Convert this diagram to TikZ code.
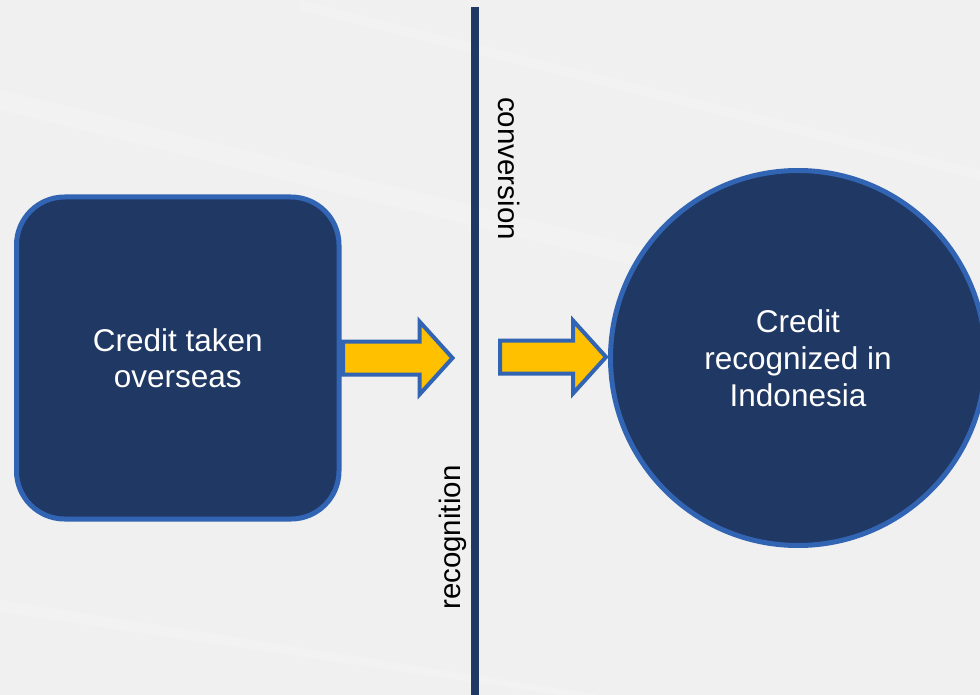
\documentclass[tikz,border=0pt]{standalone}
\usepackage{fontspec}
\setmainfont{Liberation Sans}
\definecolor{bgc}{HTML}{F0F0F0}
\definecolor{navy}{HTML}{203864}
\definecolor{rimblue}{HTML}{3264B4}
\definecolor{lineblue}{HTML}{1F3864}
\definecolor{gold}{HTML}{FFC000}
\tikzset{
  shapebox/.style={draw=rimblue, fill=navy, line width=5pt, text=white, align=center,
    font=\fontsize{31.5}{37}\selectfont, inner sep=0pt},
  barrow/.style={draw=rimblue, fill=gold, line width=4pt, line join=miter},
  vline/.style={draw=lineblue, line width=8pt},
  sidelabel/.style={font=\fontsize{29.5}{34}\selectfont, text=black, inner sep=0pt}
}
\begin{document}
\begin{tikzpicture}[x=1pt,y=-1pt]
\useasboundingbox (0,0) rectangle (980,695);
\fill[bgc] (0,0) rectangle (980,695);
\begin{scope}[white, opacity=0.18]
  \fill (0,90) -- (980,330) -- (980,350) -- (0,110) -- cycle;
  \fill (300,0) -- (980,170) -- (980,180) -- (300,10) -- cycle;
  \fill (0,600) -- (600,695) -- (560,695) -- (0,612) -- cycle;
\end{scope}

% divider
\coordinate (ltop) at (475,7);
\coordinate (lbot) at (475,700);
\draw[vline] (ltop) -- (lbot);

% shapes
\node[shapebox, rectangle, rounded corners=48pt, minimum width=322.5pt, minimum height=322pt,
  font=\fontsize{31.5}{36}\selectfont]
  (src) at (177.75,358) {Credit taken\\overseas};
\node[shapebox, circle, minimum size=375pt]
  (dst) at (798,358) {Credit\\recognized in\\Indonesia};

% block arrows
\coordinate (a1) at (src.east);
\coordinate (a2) at (500,357);
\draw[barrow] (a1) ++(1.5,-16.5) -- ++(76.5,0) -- ++(0,-20) -- ++(33,36.5)
  -- ++(-33,36.5) -- ++(0,-20) -- ++(-76.5,0) -- cycle;
\draw[barrow] (a2) ++(0,-16.5) -- ++(73,0) -- ++(0,-20) -- ++(33,36.5)
  -- ++(-33,36.5) -- ++(0,-20) -- ++(-73,0) -- cycle;

% labels
\node[sidelabel, rotate=-90, anchor=base west] (conv) at (498.5,97) {conversion};
\node[sidelabel, rotate=90, anchor=base west] (recog) at (460.5,610) {recognition};
\end{tikzpicture}
\end{document}
